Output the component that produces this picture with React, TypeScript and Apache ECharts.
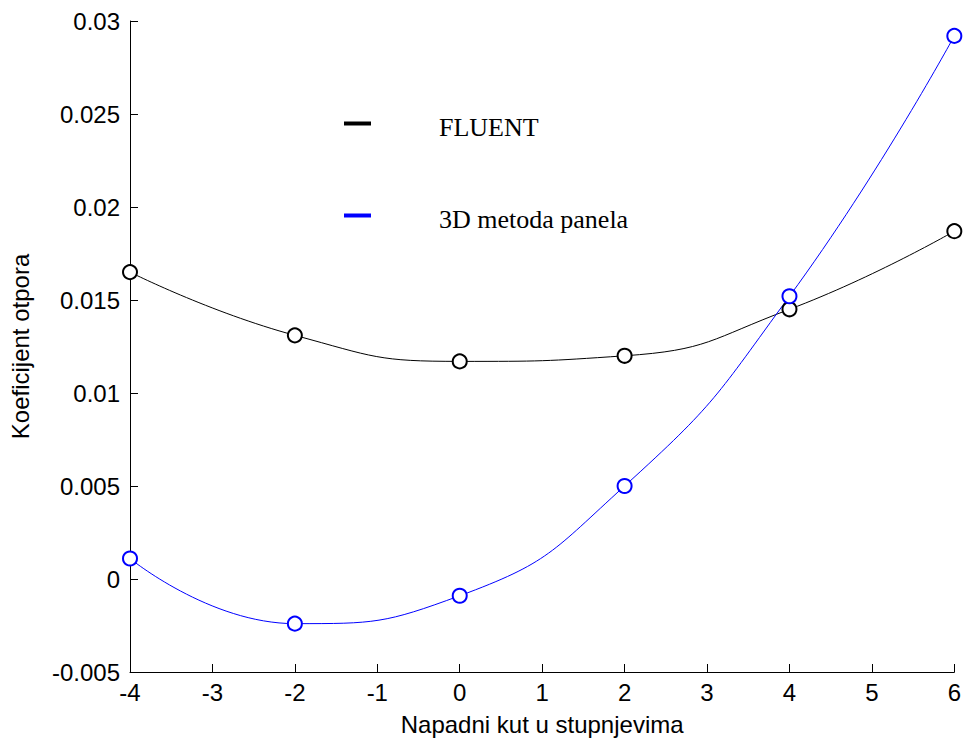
import React, { useEffect, useRef } from "react";
import * as echarts from "echarts";

const angles = [-4, -2, 0, 2, 4, 6];
const fluent = [0.0165, 0.0131, 0.0117, 0.012, 0.0145, 0.0187];
const panel3d = [0.0011, -0.0024, -0.0009, 0.005, 0.0152, 0.0292];
const seriesNames = ["FLUENT", "3D metoda panela"];
const seriesColors = ["#000000", "#0000ff"];

export default function App() {
  const ref = useRef<HTMLDivElement>(null);
  useEffect(() => {
    if (!ref.current) return;
    const chart = echarts.init(ref.current, null, { renderer: "svg" });
    const mk = (name: string, vals: number[], color: string) => ({
      name,
      type: "line",
      data: angles.map((a, i) => [a, vals[i]]),
      smooth: 0.5,
      symbol: "emptyCircle",
      symbolSize: 14,
      lineStyle: { color, width: 1 },
      itemStyle: { color, borderColor: color, borderWidth: 1 },
    });
    const axisFont = { fontFamily: "Liberation Sans", fontSize: 24, color: "#000" };
    chart.setOption({
      animation: false,
      backgroundColor: "#ffffff",
      grid: { left: 128, right: 9, top: 21, bottom: 72 },
      xAxis: {
        type: "value",
        min: -4,
        max: 6,
        interval: 1,
        name: "Napadni kut u stupnjevima",
        nameLocation: "middle",
        nameGap: 40,
        nameTextStyle: axisFont,
        axisLine: { onZero: false, lineStyle: { color: "#000", width: 1 } },
        axisTick: { inside: true, length: 8, lineStyle: { color: "#000", width: 1 } },
        axisLabel: { ...axisFont, margin: 8 },
        splitLine: { show: false },
      },
      yAxis: {
        type: "value",
        min: -0.005,
        max: 0.03,
        interval: 0.005,
        name: "Koeficijent otpora",
        nameLocation: "middle",
        nameGap: 98,
        nameRotate: 90,
        nameTextStyle: axisFont,
        axisLine: { show: true, onZero: false, lineStyle: { color: "#000", width: 1 } },
        axisTick: { show: true, inside: true, length: 8, lineStyle: { color: "#000", width: 1 } },
        axisLabel: {
          ...axisFont,
          margin: 10,
          formatter: (v: number) => String(parseFloat(v.toFixed(4))),
        },
        splitLine: { show: false },
      },
      series: [
        mk(seriesNames[0], fluent, seriesColors[0]),
        mk(seriesNames[1], panel3d, seriesColors[1]),
      ],
      graphic: [
        { type: "line", shape: { x1: 344, y1: 123.5, x2: 371, y2: 123.5 }, style: { stroke: seriesColors[0], lineWidth: 4 } },
        { type: "text", x: 439, y: 127, style: { text: seriesNames[0], font: "26px 'Liberation Serif'", fill: "#000", verticalAlign: "middle" } },
        { type: "line", shape: { x1: 344, y1: 215.5, x2: 371, y2: 215.5 }, style: { stroke: seriesColors[1], lineWidth: 4 } },
        { type: "text", x: 439, y: 219, style: { text: seriesNames[1], font: "26px 'Liberation Serif'", fill: "#000", verticalAlign: "middle" } },
      ],
    });
    return () => chart.dispose();
  }, []);
  return (
    <div
      ref={ref}
      style={{ position: "fixed", left: 0, top: 0, width: 964, height: 744, background: "#fff" }}
    />
  );
}
